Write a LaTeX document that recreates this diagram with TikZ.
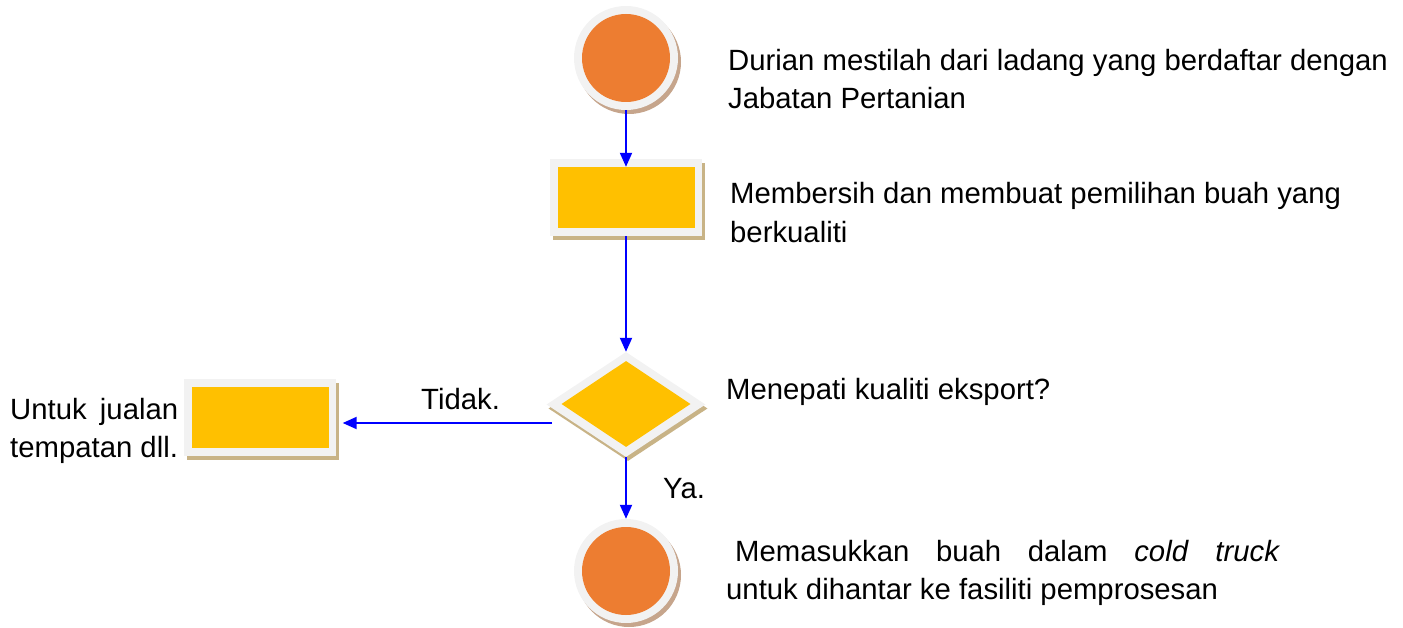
\documentclass[tikz,border=0pt]{standalone}
\usepackage{fontspec}
\setmainfont{Liberation Sans}
\usetikzlibrary{arrows.meta,shapes.geometric}
\definecolor{ringc}{HTML}{F2F2F2}
\definecolor{orangec}{HTML}{ED7D31}
\definecolor{goldc}{HTML}{FFC000}
\definecolor{cshadow}{HTML}{C6A58C}
\definecolor{rshadow}{HTML}{C8B386}
\definecolor{arrowc}{HTML}{0000FF}
\begin{document}
\begin{tikzpicture}[x=1pt,y=-1pt,
  lbl/.style={anchor=base west,inner sep=0pt,font=\fontsize{29.3}{38}\selectfont},
  circout/.style={circle,fill=ringc,minimum size=104pt,inner sep=0pt},
  circin/.style={circle,fill=orangec,minimum size=88pt,inner sep=0pt},
  circshad/.style={circle,fill=cshadow,minimum size=104pt,inner sep=0pt},
  boxout/.style={rectangle,fill=ringc,minimum width=152pt,minimum height=77pt,inner sep=0pt},
  boxin/.style={rectangle,fill=goldc,minimum width=137pt,minimum height=61pt,inner sep=0pt},
  boxshad/.style={rectangle,fill=rshadow,minimum width=152pt,minimum height=77pt,inner sep=0pt},
  dout/.style={diamond,fill=ringc,minimum width=159pt,minimum height=105pt,inner sep=0pt},
  din/.style={diamond,fill=goldc,minimum width=129pt,minimum height=86pt,inner sep=0pt},
  dshad/.style={diamond,fill=rshadow,minimum width=159pt,minimum height=105pt,inner sep=0pt},
  flow/.style={draw=arrowc,line width=2pt,-{Triangle[length=14pt,width=12pt]}}
]
\useasboundingbox (0,0) rectangle (1403,628);

% top circle
\node[circshad] at (629,62) {};
\node[circout] (c1) at (626,58) {};
\node[circin] (c1in) at (626,58) {};

% rectangle 1
\node[boxshad] at (629,201.5) {};
\node[boxout] (r1) at (626,197.5) {};
\node[boxin] (r1in) at (626,197.5) {};

% diamond
\node[dshad] at (628,408.5) {};
\node[dout] (d) at (626,404.5) {};
\node[din] (din) at (626,404) {};

% left rectangle
\node[boxshad] at (263,421) {};
\node[boxout] (r2) at (259.5,417) {};
\node[boxin] (r2in) at (260,417.5) {};

% bottom circle
\node[circshad] at (629,575) {};
\node[circout] (c2) at (626,571) {};
\node[circin] (c2in) at (626,571) {};

% connectors
\draw[flow] (c1.south) -- (r1in.north);
\draw[flow] (r1.south) -- (d.north);
\draw[flow] (d.south) -- (c2.north);
\coordinate (dl) at (552,423);
\draw[flow,shorten >=7pt] (dl) -- (dl -| r2.east);

% labels
\node[lbl] (t1a) at (728,71) {Durian mestilah dari ladang yang berdaftar dengan};
\node[lbl] (t1b) at (728,109) {Jabatan Pertanian};
\node[lbl] (t2a) at (730,204) {Membersih dan membuat pemilihan buah yang};
\node[lbl] (t2b) at (730,243) {berkualiti};
\node[lbl] (t3) at (726,399) {Menepati kualiti eksport?};
\node[lbl] (tno) at (421,409) {Tidak.};
\node[lbl] (tyes) at (663,498) {Ya.};
\node[lbl] (t4a) at (10,419) {\hbox to 168pt{Untuk\hfill jualan}};
\node[lbl] (t4b) at (10,457) {tempatan dll.};
\node[lbl] (t5a) at (735,561) {\hbox to 545pt{Memasukkan\hfill buah\hfill dalam\hfill \textit{cold}\hfill \textit{truck}}};
\node[lbl] (t5b) at (726,599) {untuk dihantar ke fasiliti pemprosesan};
\end{tikzpicture}
\end{document}
